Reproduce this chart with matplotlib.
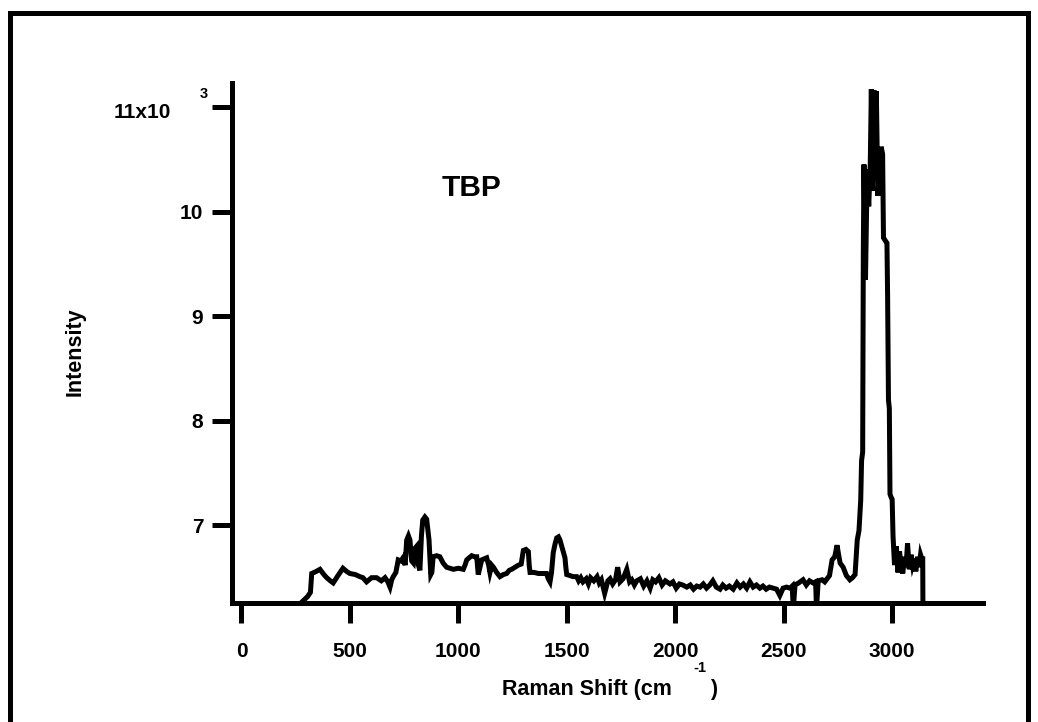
import matplotlib
matplotlib.use('Agg')
import matplotlib.pyplot as plt
from matplotlib.patches import Rectangle

# Raman spectrum of TBP (intensity in units of 10^3)
shift = [255, 285, 305, 318, 324, 345, 362, 380, 393, 410, 423, 445, 468, 485, 500, 525, 546, 560, 577, 600,
         623, 645, 662, 675, 685, 693, 700, 712, 723, 735, 745, 755, 762, 770, 777, 785, 793, 800, 808, 816,
         823, 830, 836, 846, 854, 860, 865, 869, 873, 878, 884, 900, 915, 930, 946, 962, 977, 1000, 1023, 1031,
         1039, 1050, 1062, 1075, 1085, 1089, 1092, 1100, 1108, 1120, 1131, 1140, 1146, 1154, 1162, 1177, 1192, 1208, 1223, 1235,
         1246, 1262, 1277, 1290, 1300, 1312, 1323, 1327, 1331, 1350, 1370, 1390, 1407, 1415, 1423, 1430, 1438, 1446, 1454, 1462,
         1469, 1480, 1492, 1496, 1500, 1515, 1530, 1546, 1555, 1565, 1575, 1590, 1600, 1610, 1625, 1640, 1650, 1660, 1675, 1690,
         1700, 1712, 1725, 1735, 1746, 1760, 1777, 1790, 1800, 1812, 1823, 1840, 1855, 1870, 1885, 1897, 1910, 1925, 1940, 1955,
         1976, 1990, 2005, 2020, 2035, 2054, 2070, 2085, 2100, 2115, 2130, 2145, 2160, 2174, 2190, 2207, 2220, 2235, 2250, 2268,
         2285, 2300, 2315, 2330, 2345, 2360, 2375, 2391, 2405, 2420, 2435, 2452, 2468, 2483, 2498, 2514, 2530, 2540, 2545, 2553,
         2570, 2590, 2605, 2620, 2636, 2648, 2652, 2660, 2678, 2690, 2701, 2712, 2724, 2736, 2747, 2754, 2761, 2775, 2790, 2806,
         2818, 2830, 2835, 2840, 2848, 2856, 2860, 2865, 2868, 2871, 2878, 2886, 2893, 2900, 2905, 2910, 2917, 2923, 2928, 2935,
         2942, 2950, 2957, 2961, 2970, 2977, 2980, 2984, 2988, 2991, 2996, 3001, 3005, 3012, 3020, 3028, 3035, 3042, 3050, 3058,
         3065, 3072, 3080, 3088, 3095, 3103, 3110, 3118, 3125, 3132, 3138, 3142, 3143]

intensity = [6.22, 6.28, 6.32, 6.36, 6.54, 6.56, 6.58, 6.53, 6.50, 6.47, 6.45, 6.52, 6.59, 6.56, 6.54, 6.53, 6.51, 6.50, 6.46, 6.50,
             6.50, 6.47, 6.50, 6.46, 6.41, 6.48, 6.51, 6.55, 6.67, 6.66, 6.69, 6.62, 6.86, 6.90, 6.86, 6.66, 6.64, 6.78, 6.80, 6.62,
             6.57, 6.90, 7.05, 7.08, 7.06, 6.95, 6.86, 6.70, 6.53, 6.55, 6.70, 6.71, 6.70, 6.64, 6.60, 6.59, 6.58, 6.59, 6.58, 6.62,
             6.67, 6.69, 6.71, 6.70, 6.70, 6.60, 6.53, 6.60, 6.67, 6.68, 6.69, 6.62, 6.55, 6.62, 6.60, 6.55, 6.51, 6.53, 6.54, 6.57,
             6.58, 6.60, 6.62, 6.63, 6.76, 6.77, 6.75, 6.62, 6.55, 6.55, 6.54, 6.54, 6.54, 6.49, 6.46, 6.55, 6.74, 6.82, 6.88, 6.89,
             6.86, 6.78, 6.69, 6.60, 6.53, 6.52, 6.51, 6.51, 6.47, 6.50, 6.46, 6.49, 6.44, 6.50, 6.47, 6.51, 6.45, 6.48, 6.35, 6.47,
             6.49, 6.44, 6.48, 6.60, 6.46, 6.49, 6.58, 6.46, 6.48, 6.43, 6.47, 6.49, 6.42, 6.47, 6.40, 6.48, 6.46, 6.50, 6.43, 6.47,
             6.44, 6.46, 6.40, 6.44, 6.43, 6.41, 6.43, 6.39, 6.42, 6.41, 6.44, 6.40, 6.43, 6.47, 6.41, 6.39, 6.43, 6.40, 6.42, 6.39,
             6.45, 6.41, 6.44, 6.40, 6.46, 6.41, 6.43, 6.40, 6.42, 6.39, 6.41, 6.40, 6.39, 6.33, 6.40, 6.41, 6.40, 6.42, 6.20, 6.43,
             6.45, 6.48, 6.43, 6.47, 6.45, 6.46, 6.20, 6.47, 6.48, 6.46, 6.49, 6.52, 6.67, 6.70, 6.81, 6.72, 6.64, 6.60, 6.52, 6.48,
             6.50, 6.53, 6.70, 6.86, 6.95, 7.24, 7.62, 7.70, 9.60, 10.45, 9.35, 10.40, 10.05, 10.45, 11.17, 10.20, 11.16, 10.30, 11.15, 10.15,
             10.40, 10.62, 10.55, 9.75, 9.72, 9.70, 9.20, 8.20, 8.12, 7.30, 7.27, 7.25, 6.90, 6.62, 6.80, 6.55, 6.75, 6.62, 6.54, 6.70,
             6.60, 6.83, 6.58, 6.72, 6.62, 6.68, 6.56, 6.70, 6.60, 6.72, 6.68, 6.68, 6.20]

xticks = [0, 500, 1000, 1500, 2000, 2500, 3000]
yticks = [7, 8, 9, 10, 11]
ytick_labels = ['7', '8', '9', '10', '']

W, H = 1038, 722
plt.rcParams['font.family'] = ['Liberation Sans', 'DejaVu Sans']
plt.rcParams['font.weight'] = 'bold'

fig = plt.figure(figsize=(W / 100, H / 100), dpi=100)
fig.patch.set_facecolor('white')

# outer frame (bottom edge runs off the image)
fig.patches.append(Rectangle((9.5 / W, -20 / H), (1028 - 9.5) / W, (722 + 20 - 13.5) / H,
                             transform=fig.transFigure, fill=False, edgecolor='black', linewidth=3.6))

ax = fig.add_axes([231.5 / W, 1 - 603 / H, (983 - 231.5) / W, (603 - 83) / H])
ax.plot(shift, intensity, color='black', lw=3.6, solid_joinstyle='miter')
ax.set_xlim(-46, 3420)
ax.set_ylim(6.258, 11.229)

for s in ['top', 'right']:
    ax.spines[s].set_visible(False)
for s in ['left', 'bottom']:
    ax.spines[s].set_linewidth(3.6)

ax.set_xticks(xticks)
ax.set_xticklabels([str(t) for t in xticks])
ax.set_yticks(yticks)
ax.set_yticklabels(ytick_labels)
ax.tick_params(axis='both', direction='out', length=14.4, width=3.6, labelsize=15)
ax.tick_params(axis='x', pad=14)
ax.tick_params(axis='y', pad=6)
for lab in ax.get_xticklabels() + ax.get_yticklabels():
    lab.set_fontweight('bold')

def ftext(px, py, s, **kw):
    fig.text(px / W, 1 - py / H, s, fontweight='bold', **kw)

ftext(171, 112, '11x10', fontsize=15, ha='right', va='center')
ftext(204, 94, '3', fontsize=10.5, ha='center', va='center')
ftext(75, 352, 'Intensity', fontsize=15.5, rotation=90, ha='center', va='center')
ftext(672, 690, 'Raman Shift (cm', fontsize=15.5, ha='right', va='center')
ftext(700, 668, '-1', fontsize=10.5, ha='center', va='center')
ftext(714, 690, ')', fontsize=15.5, ha='center', va='center')
ftext(471, 188, 'TBP', fontsize=21.5, ha='center', va='center')

fig.savefig('out.png', dpi=100, facecolor='white')
